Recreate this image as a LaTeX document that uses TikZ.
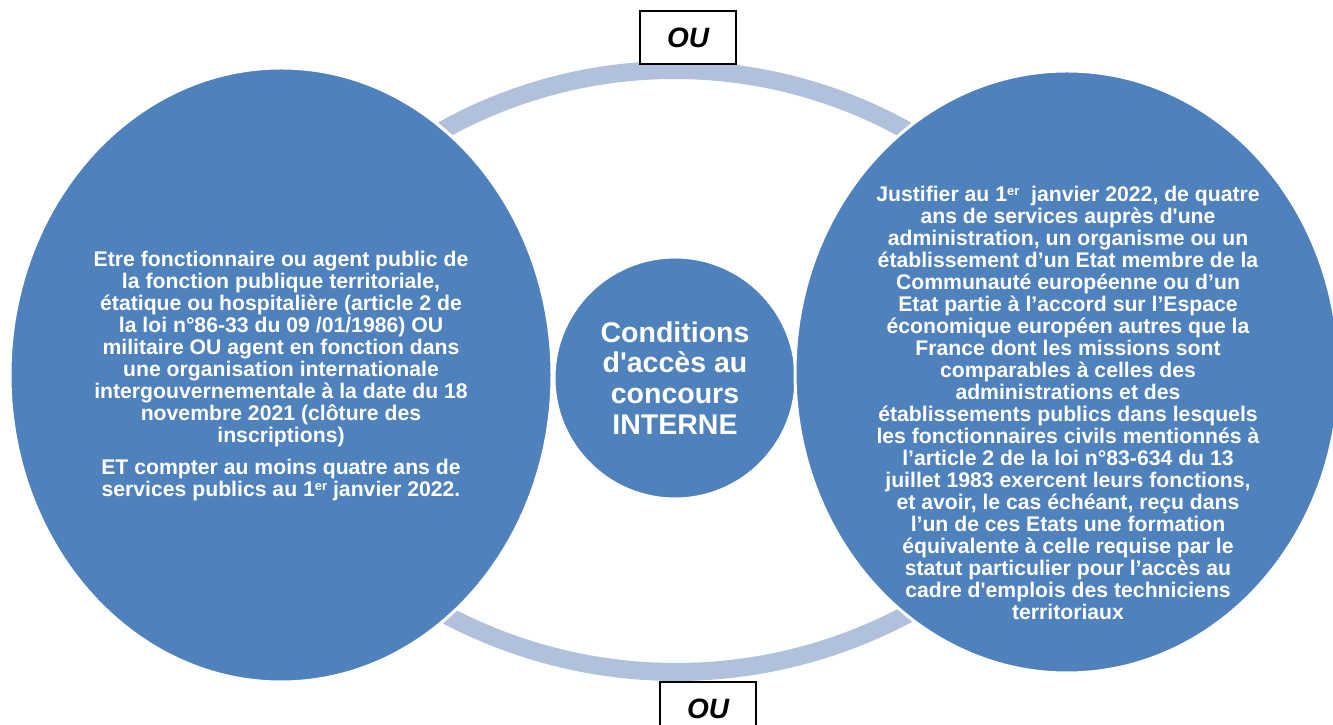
\documentclass[tikz,border=0pt]{standalone}
\usepackage{fontspec}
\setmainfont{Liberation Sans}
\usetikzlibrary{shapes.geometric}
\definecolor{bubble}{HTML}{4F81BD}
\definecolor{arcblue}{HTML}{B1C1DC}
\newcommand{\myer}{\raisebox{0.5ex}{\fontsize{13}{13}\selectfont er}}
\tikzset{
  bubble/.style={ellipse, fill=bubble, draw=white, line width=3pt, inner sep=0pt, outer sep=0pt},
  bubbletext/.style={text=white, font=\bfseries\fontsize{21.2}{22}\selectfont, align=center, inner sep=0pt},
  centertext/.style={text=white, font=\bfseries\fontsize{28.5}{30.7}\selectfont, align=center, inner sep=0pt},
  oubox/.style={draw=black, line width=1.5pt, fill=white, minimum width=96pt, minimum height=53pt, inner sep=0pt, font=\bfseries\itshape\fontsize{28}{30}\selectfont},
  ring/.style={draw=arcblue, line width=18pt}
}
\begin{document}
\begin{tikzpicture}[x=1pt,y=1pt]
\useasboundingbox (0,0) rectangle (1333,725);
% connector arcs
\draw[ring] (674.5,179) ++(125:476) arc[start angle=125, end angle=55, radius=476];
\draw[ring] (676,544.5) ++(-122:491.5) arc[start angle=-122, end angle=-58, radius=491.5];
% bubbles
\node[bubble, minimum width=242pt, minimum height=242pt] (mid) at (675,347) {};
\node[bubble, minimum width=542pt, minimum height=614pt] (left) at (281,350) {};
\node[bubble, minimum width=544pt, minimum height=602pt] (right) at (1067,353) {};
% texts
\node[centertext] (midtext) at (675,347) {Conditions\\d\textquotesingle acc\`es au\\concours\\INTERNE};
\node[bubbletext] (lefttext) at (281,349) {Etre fonctionnaire ou agent public de\\
la fonction publique territoriale,\\
étatique ou hospitalière (article 2 de\\
la loi n°86-33 du 09 /01/1986) OU\\
militaire OU agent en fonction dans\\
une organisation internationale\\
intergouvernementale à la date du 18\\
novembre 2021 (clôture des\\
inscriptions)\\[10pt]
ET compter au moins quatre ans de\\
services publics au 1\myer\ janvier 2022.};
\node[bubbletext] (righttext) at (1068,322.5) {Justifier au 1\myer\ \ janvier 2022, de quatre\\
ans de services auprès d\textquotesingle une\\
administration, un organisme ou un\\
établissement d’un Etat membre de la\\
Communauté européenne ou d’un\\
Etat partie à l’accord sur l’Espace\\
économique européen autres que la\\
France dont les missions sont\\
comparables à celles des\\
administrations et des\\
établissements publics dans lesquels\\
les fonctionnaires civils mentionnés à\\
l’article 2 de la loi n°83-634 du 13\\
juillet 1983 exercent leurs fonctions,\\
et avoir, le cas échéant, reçu dans\\
l’un de ces Etats une formation\\
équivalente à celle requise par le\\
statut particulier pour l’accès au\\
cadre d\textquotesingle emplois des techniciens\\
territoriaux};
% OU labels
\node[oubox] (outop) at (688,687.5) {OU};
\node[oubox] (oubot) at (708,16.5) {OU};
\end{tikzpicture}
\end{document}
